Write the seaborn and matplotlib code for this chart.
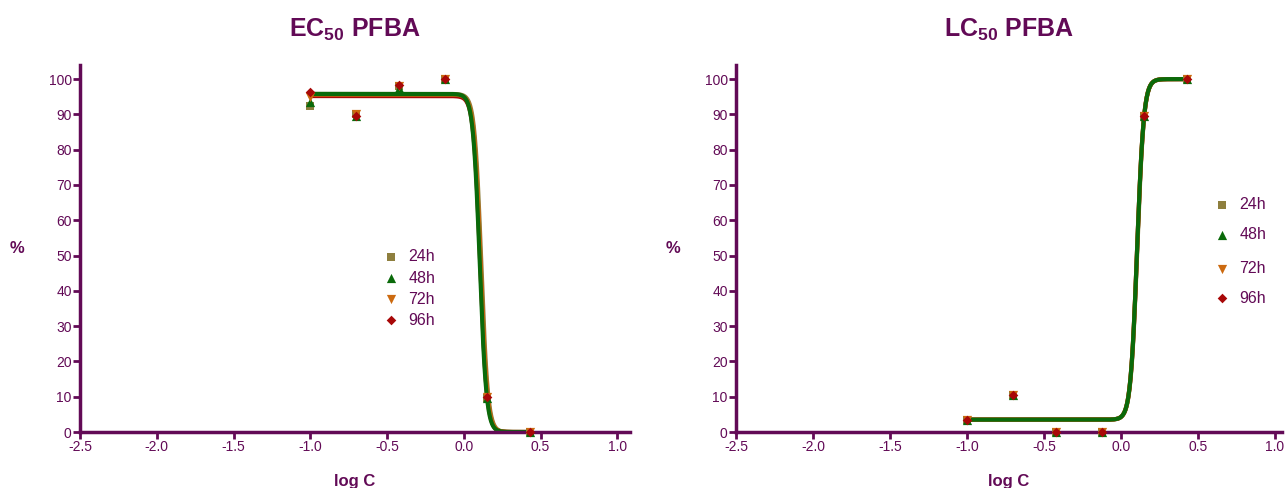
import numpy as np
import pandas as pd
import matplotlib
matplotlib.use("Agg")
import matplotlib.pyplot as plt
import seaborn as sns

sns.set_theme(style="white")
plt.rcParams["font.family"] = ["Liberation Sans", "DejaVu Sans"]
plt.rcParams["mathtext.fontset"] = "custom"
plt.rcParams["mathtext.rm"] = "Liberation Sans:bold"
plt.rcParams["mathtext.bf"] = "Liberation Sans:bold"
plt.rcParams["mathtext.it"] = "Liberation Sans:bold"

PURPLE = "#620A56"

times = ["24h", "48h", "72h", "96h"]
colors = {"24h": "#8E7F3E", "48h": "#0A6A0A", "72h": "#CC6A10", "96h": "#A80808"}
markers = {"24h": "s", "48h": "^", "72h": "v", "96h": "D"}
msizes = {"24h": 40, "48h": 44, "72h": 44, "96h": 24}

log_c = [-1.0, -0.7, -0.42, -0.12, 0.15, 0.43]

# EC50 responses (%)
ec_24 = [92.5, 90.0, 98.0, 100.0, 9.5, 0.0]
ec_48 = [93.5, 89.5, 97.5, 100.0, 9.5, 0.0]
ec_72 = [95.0, 90.0, 98.0, 100.0, 10.0, 0.0]
ec_96 = [96.3, 89.5, 98.3, 100.0, 10.0, 0.0]

# LC50 responses (%)
lc_24 = [3.3, 10.5, 0.0, 0.0, 89.5, 100.0]
lc_48 = [3.3, 10.5, 0.0, 0.0, 89.5, 100.0]
lc_72 = [3.3, 10.5, 0.0, 0.0, 89.5, 100.0]
lc_96 = [3.3, 10.5, 0.0, 0.0, 89.5, 100.0]

# Four-parameter logistic fits: bottom, top, logEC50, hill slope
ec_fit = {"24h": [0.0, 95.8, 0.114, -20.0],
          "48h": [0.0, 95.8, 0.104, -20.0],
          "72h": [0.0, 95.6, 0.110, -20.0],
          "96h": [0.0, 95.2, 0.107, -20.0]}
lc_fit = {"24h": [3.5, 100.0, 0.106, 20.0],
          "48h": [3.5, 100.0, 0.105, 20.0],
          "72h": [3.5, 100.0, 0.105, 20.0],
          "96h": [3.5, 100.0, 0.105, 20.0]}

x_ticks = [-2.5, -2.0, -1.5, -1.0, -0.5, 0.0, 0.5, 1.0]
x_ticklabels = ["-2.5", "-2.0", "-1.5", "-1.0", "-0.5", "0.0", "0.5", "1.0"]
y_ticks = list(range(0, 101, 10))


def logistic(x, p):
    bottom, top, ec, hill = p
    return bottom + (top - bottom) / (1 + 10 ** ((ec - x) * hill))


def frame(values):
    rows = []
    for t, vals in zip(times, values):
        for x, y in zip(log_c, vals):
            rows.append({"logC": x, "pct": y, "time": t})
    return pd.DataFrame(rows)


def curves(fits, x0, x1):
    rows = []
    xs = np.linspace(x0, x1, 600)
    for t in times:
        ys = logistic(xs, fits[t])
        rows.append(pd.DataFrame({"logC": xs, "pct": ys, "time": t}))
    return pd.concat(rows)


fig = plt.figure(figsize=(12.85, 4.88), dpi=100)
ax1 = fig.add_axes([80 / 1285, 1 - 432 / 488, 550 / 1285, 367 / 488])
ax2 = fig.add_axes([736 / 1285, 1 - 432 / 488, 546 / 1285, 367 / 488])

panels = [
    (ax1, frame([ec_24, ec_48, ec_72, ec_96]), curves(ec_fit, -1.0, 0.43),
     r"EC$_{\mathbf{50}}$ PFBA", 1.083,
     [(0.566, 0.477), (0.566, 0.419), (0.566, 0.362), (0.566, 0.304)]),
    (ax2, frame([lc_24, lc_48, lc_72, lc_96]), curves(lc_fit, -1.0, 0.43),
     r"LC$_{\mathbf{50}}$ PFBA", 1.046,
     [(0.891, 0.619), (0.891, 0.537), (0.891, 0.445), (0.891, 0.364)]),
]

line_order = ["24h", "96h", "72h", "48h"]

for ax, pts, fit, title, xmax, leg_pos in panels:
    for t in line_order:
        sub = fit[fit["time"] == t]
        sns.lineplot(data=sub, x="logC", y="pct", color=colors[t], lw=3,
                     ax=ax, legend=False, zorder=2)
    for t in times:
        sub = pts[pts["time"] == t]
        sns.scatterplot(data=sub, x="logC", y="pct", color=colors[t],
                        marker=markers[t], s=msizes[t], linewidth=0,
                        ax=ax, legend=False, zorder=3, clip_on=False)

    ax.set_xlim(-2.5, xmax)
    ax.set_ylim(0, 104)
    ax.set_xticks(x_ticks)
    ax.set_xticklabels(x_ticklabels)
    ax.set_yticks(y_ticks)
    ax.tick_params(axis="both", colors=PURPLE, labelcolor=PURPLE,
                   labelsize=10, length=5, width=2, direction="out",
                   left=True, bottom=True, pad=1)
    for side in ["top", "right"]:
        ax.spines[side].set_visible(False)
    for side in ["left", "bottom"]:
        ax.spines[side].set_color(PURPLE)
        ax.spines[side].set_linewidth(2.5)
    ax.set_xlabel("log C", fontsize=12, fontweight="bold", color=PURPLE,
                  labelpad=14)
    ax.set_ylabel("%", fontsize=12, fontweight="bold", color=PURPLE,
                  rotation=0, va="center", ha="center")
    ax.yaxis.set_label_coords(-0.115, 0.5)
    ax.set_title(title, fontsize=18, fontweight="bold", color=PURPLE,
                 pad=20)

    for t, (lx, ly) in zip(times, leg_pos):
        ax.scatter([lx], [ly], transform=ax.transAxes, color=colors[t],
                   marker=markers[t], s=msizes[t], linewidths=0,
                   clip_on=False, zorder=4)
        ax.text(lx + 0.031, ly, t, transform=ax.transAxes, fontsize=11.5,
                color=PURPLE, va="center", ha="left")

fig.savefig("out.png", dpi=100)
